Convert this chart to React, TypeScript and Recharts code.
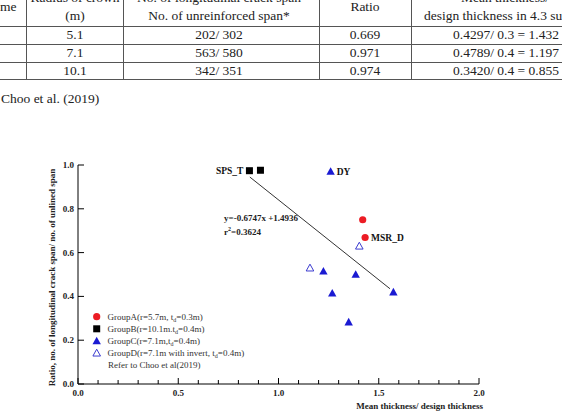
import React from 'react';
import { ScatterChart, Scatter, XAxis, YAxis, Legend } from 'recharts';

// table values (top, cropped part of the figure)
const radius = ['5.1', '7.1', '10.1'];
const spanCounts = ['202/ 302', '563/ 580', '342/ 351'];
const ratios = ['0.669', '0.971', '0.974'];
const thicknessRatios = ['0.4297/ 0.3 = 1.432', '0.4789/ 0.4 = 1.197', '0.3420/ 0.4 = 0.855'];

// scatter data
const groupA = [
  { x: 1.42, y: 0.75 },
  { x: 1.432, y: 0.669, tag: 'MSR_D' },
];
const groupB = [
  { x: 0.855, y: 0.974, tag: 'SPS_T' },
  { x: 0.91, y: 0.976 },
];
const groupC = [
  { x: 1.26, y: 0.971, tag: 'DY' },
  { x: 1.224, y: 0.515 },
  { x: 1.385, y: 0.5 },
  { x: 1.268, y: 0.415 },
  { x: 1.573, y: 0.42 },
  { x: 1.35, y: 0.283 },
];
const groupD = [
  { x: 1.403, y: 0.63 },
  { x: 1.157, y: 0.53 },
];
const fitLine = [
  { x: 0.857, y: 0.945 },
  { x: 1.556, y: 0.435 },
];

const xTicks = [0, 0.1, 0.2, 0.3, 0.4, 0.5, 0.6, 0.7, 0.8, 0.9, 1, 1.1, 1.2, 1.3, 1.4, 1.5, 1.6, 1.7, 1.8, 1.9, 2];
const yTicks = [0, 0.2, 0.4, 0.6, 0.8, 1];

const legendItems = [
  { kind: 'circle', pre: 'GroupA(r=5.7m, t', post: '=0.3m)' },
  { kind: 'square', pre: 'GroupB(r=10.1m.t', post: '=0.4m)' },
  { kind: 'tri', pre: 'GroupC(r=7.1m,t', post: '=0.4m)' },
  { kind: 'open', pre: 'GroupD(r=7.1m with invert, t', post: '=0.4m)' },
];
const legendNote = 'Refer to Choo et al(2019)';

const SERIF = '"Liberation Serif", "Times New Roman", serif';
const RED = '#ec1c24';
const BLUE = '#1a1ad2';
const OPEN_BLUE = '#3c3cd0';

function tagText(p: any) {
  const tag = p.payload && p.payload.tag;
  if (!tag) return null;
  const left = tag === 'SPS_T';
  return (
    <text
      x={left ? p.cx - 6 : p.cx + 6}
      y={p.cy + 3.5}
      textAnchor={left ? 'end' : 'start'}
      fontFamily={SERIF}
      fontWeight="bold"
      fontSize={9.5}
      fill="#111"
    >
      {tag}
    </text>
  );
}

function triPoints(cx: number, cy: number, s: number) {
  return `${cx},${cy - s} ${cx + s},${cy + s * 0.8} ${cx - s},${cy + s * 0.8}`;
}

const CircleDot = (p: any) => (
  <g>
    <circle cx={p.cx} cy={p.cy} r={3.6} fill={RED} />
    {tagText(p)}
  </g>
);
const SquareDot = (p: any) => (
  <g>
    <rect x={p.cx - 3.5} y={p.cy - 3.5} width={7} height={7} fill="#000" />
    {tagText(p)}
  </g>
);
const TriDot = (p: any) => (
  <g>
    <polygon points={triPoints(p.cx, p.cy, 4.2)} fill={BLUE} />
    {tagText(p)}
  </g>
);
const OpenTriDot = (p: any) => (
  <polygon points={triPoints(p.cx, p.cy, 3.8)} fill="#fff" stroke={OPEN_BLUE} strokeWidth={1} />
);

const XTick = (p: any) => {
  const v = p.payload.value;
  const major = Math.abs(v * 2 - Math.round(v * 2)) < 1e-6;
  return (
    <g>
      <line x1={p.x} x2={p.x} y1={p.y} y2={p.y - (major ? 6 : 4)} stroke="#000" />
      {major && (
        <text x={p.x} y={p.y + 12} textAnchor="middle" fontFamily={SERIF} fontWeight="bold" fontSize={9} fill="#222">
          {v.toFixed(1)}
        </text>
      )}
    </g>
  );
};

const YTick = (p: any) => (
  <g>
    <line x1={p.x} x2={p.x + 6} y1={p.y} y2={p.y} stroke="#000" />
    <text x={p.x - 4} y={p.y + 3} textAnchor="end" fontFamily={SERIF} fontWeight="bold" fontSize={9} fill="#222">
      {p.payload.value.toFixed(1)}
    </text>
  </g>
);

const YLabel = (p: any) => {
  const vb = p.viewBox || { x: 48, y: 165, width: 30, height: 219 };
  const cx = vb.x + 4;
  const cy = vb.y + vb.height / 2 + 3;
  return (
    <text
      x={cx}
      y={cy}
      transform={`rotate(-90, ${cx}, ${cy})`}
      textAnchor="middle"
      dominantBaseline="central"
      fontFamily={SERIF}
      fontWeight="bold"
      fontSize={9}
      fill="#222"
    >
      Ratio, no. of longitudinal crack span/ no. of unlined span
    </text>
  );
};

const XLabel = (p: any) => {
  const vb = p.viewBox || { x: 78, y: 384, width: 401, height: 20 };
  return (
    <text x={vb.x + vb.width + 4} y={vb.y + 25} textAnchor="end" fontFamily={SERIF} fontWeight="bold" fontSize={9} fill="#222">
      Mean thickness/ design thickness
    </text>
  );
};

function LegendMarker({ kind, cx, cy }: { kind: string; cx: number; cy: number }) {
  if (kind === 'circle') return <circle cx={cx} cy={cy} r={3.6} fill={RED} />;
  if (kind === 'square') return <rect x={cx - 3.5} y={cy - 3.5} width={7} height={7} fill="#000" />;
  if (kind === 'tri') return <polygon points={triPoints(cx, cy, 4.2)} fill={BLUE} />;
  return <polygon points={triPoints(cx, cy, 3.8)} fill="#fff" stroke={OPEN_BLUE} />;
}

const LegendBox = () => (
  <svg width={220} height={66} style={{ display: 'block' }}>
    {legendItems.map((it, i) => {
      const cy = 7.7 + i * 12.1;
      return (
        <g key={it.pre}>
          <LegendMarker kind={it.kind} cx={8.7} cy={cy} />
          <text x={19.5} y={cy + 3} fontFamily={SERIF} fontSize={9} fill="#333">
            {it.pre}
            <tspan dy={2} fontSize={6}>d</tspan>
            <tspan dy={-2}>{it.post}</tspan>
          </text>
        </g>
      );
    })}
    <text x={20} y={7.7 + 4 * 12.1 + 3} fontFamily={SERIF} fontSize={9} fill="#333">
      {legendNote}
    </text>
  </svg>
);

const hLines = [26, 44, 61.7, 79.3];
const vLines = [26, 123, 319, 411];
const rowY = [35, 52.8, 70.5];

function Txt({ x, y, children, anchor = 'center' }: any) {
  return (
    <div
      style={{
        position: 'absolute',
        left: x,
        top: y,
        transform: anchor === 'center' ? 'translate(-50%, -50%)' : 'translate(0, -50%)',
        whiteSpace: 'nowrap',
        lineHeight: 1,
      }}
    >
      {children}
    </div>
  );
}

function TablePart() {
  return (
    <div
      style={{
        position: 'absolute',
        left: 0,
        top: 0,
        width: 562,
        height: 110,
        overflow: 'hidden',
        fontFamily: SERIF,
        fontSize: 13.5,
        color: '#222',
      }}
    >
      {hLines.map((y) => (
        <div key={y} style={{ position: 'absolute', left: 0, top: y, width: 562, height: 1, background: '#555' }} />
      ))}
      {vLines.map((x) => (
        <div key={x} style={{ position: 'absolute', left: x, top: 0, width: 1, height: 80, background: '#555' }} />
      ))}
      <Txt x={0} y={7} anchor="left">me</Txt>
      <Txt x={75} y={-2}>Radius of crown</Txt>
      <Txt x={75} y={16}>(m)</Txt>
      <Txt x={219} y={-2}>No. of longitudinal crack span</Txt>
      <Txt x={219} y={16}>No. of unreinforced span*</Txt>
      <Txt x={365} y={7}>Ratio</Txt>
      <Txt x={505} y={-2}>Mean thickness/</Txt>
      <Txt x={424} y={16} anchor="left">design thickness in 4.3 subsection</Txt>
      {rowY.map((y, i) => (
        <React.Fragment key={y}>
          <Txt x={75} y={y}>{radius[i]}</Txt>
          <Txt x={219} y={y}>{spanCounts[i]}</Txt>
          <Txt x={365} y={y}>{ratios[i]}</Txt>
          <Txt x={506} y={y}>{thicknessRatios[i]}</Txt>
        </React.Fragment>
      ))}
      <Txt x={1} y={99} anchor="left">Choo et al. (2019)</Txt>
    </div>
  );
}

export default function App() {
  return (
    <div style={{ position: 'absolute', left: 0, top: 0, width: 562, height: 412, overflow: 'hidden', background: '#fff' }}>
      <ScatterChart width={562} height={412} margin={{ top: 165, right: 83, bottom: 8, left: 48 }}>
        <XAxis
          type="number"
          dataKey="x"
          domain={[0, 2]}
          ticks={xTicks}
          interval={0}
          height={20}
          tickSize={0}
          tickMargin={0}
          tickLine={false}
          axisLine={{ stroke: '#000' }}
          tick={<XTick />}
          label={{ content: <XLabel /> }}
        />
        <YAxis
          type="number"
          dataKey="y"
          domain={[0, 1]}
          ticks={yTicks}
          interval={0}
          width={30}
          tickSize={0}
          tickMargin={0}
          tickLine={false}
          axisLine={{ stroke: '#000' }}
          tick={<YTick />}
          label={{ content: <YLabel /> }}
        />
        <Legend
          layout="horizontal"
          verticalAlign="middle"
          align="center"
          content={<LegendBox />}
          wrapperStyle={{ left: 88, top: 309, width: 220, height: 66 }}
        />
        <Scatter data={fitLine} line={{ stroke: '#333', strokeWidth: 1 }} shape={() => <g />} legendType="none" isAnimationActive={false} />
        <Scatter data={groupD} shape={<OpenTriDot />} isAnimationActive={false} />
        <Scatter data={groupC} shape={<TriDot />} isAnimationActive={false} />
        <Scatter data={groupA} shape={<CircleDot />} isAnimationActive={false} />
        <Scatter data={groupB} shape={<SquareDot />} isAnimationActive={false} />
      </ScatterChart>
      <svg width={562} height={412} style={{ position: 'absolute', left: 0, top: 0, pointerEvents: 'none' }}>
        <text x={224} y={221} fontFamily={SERIF} fontWeight="bold" fontSize={9} fill="#222">
          y=-0.6747x +1.4936
        </text>
        <text x={224} y={235} fontFamily={SERIF} fontWeight="bold" fontSize={9} fill="#222">
          r<tspan dy={-4} fontSize={6}>2</tspan>
          <tspan dy={4}>=0.3624</tspan>
        </text>
      </svg>
      <TablePart />
    </div>
  );
}
